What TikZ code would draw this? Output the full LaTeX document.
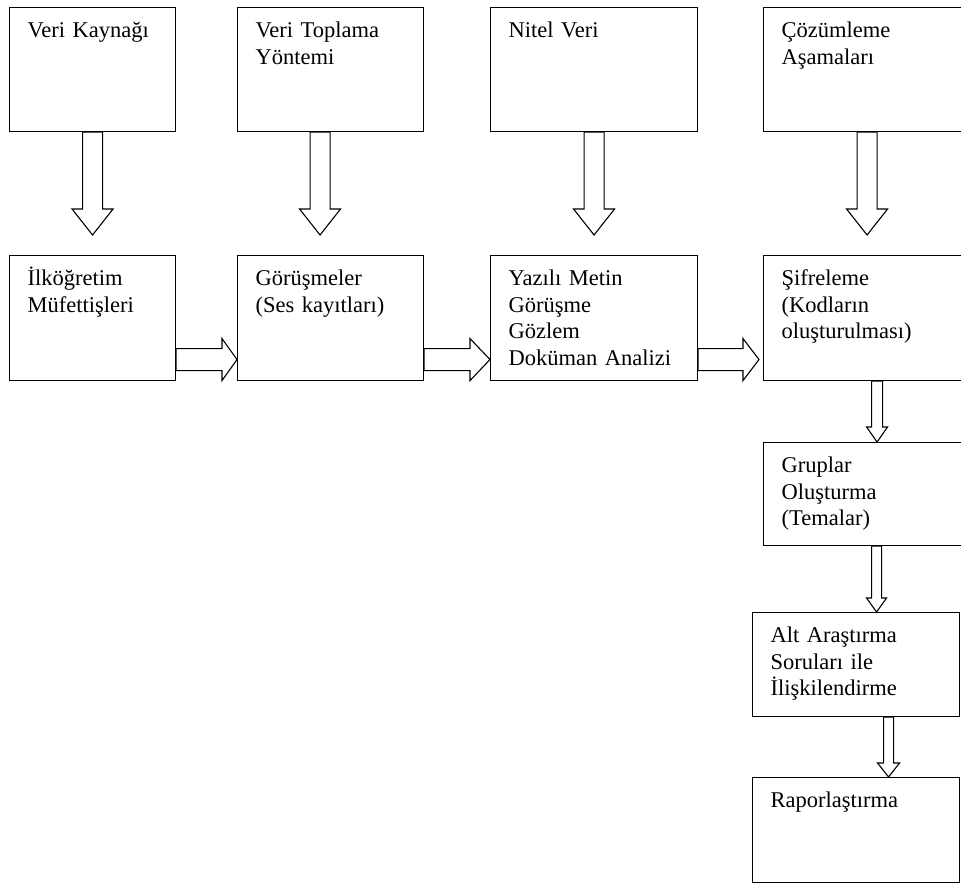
\documentclass[tikz,border=0pt]{standalone}
\usepackage{fontspec}
\setmainfont{Liberation Serif}
\usetikzlibrary{calc}

\tikzstyle{box} = [draw,line width=1.1pt,anchor=north west,inner sep=0pt]
\tikzstyle{boxtext} = [anchor=base west,align=left,text width=200pt,inner sep=0pt,font=\fontsize{22.5}{26.7}\selectfont]
\tikzset{
  down block/.style n args={3}{draw,line width=1.1pt,fill=white,
    to path={let \p1=(\tikztostart), \p2=(\tikztotarget) in
      (\x1-#1,\y1) -- (\x1-#1,\y2+#3) -- (\x1-#2,\y2+#3) -- (\x1,\y2)
      -- (\x1+#2,\y2+#3) -- (\x1+#1,\y2+#3) -- (\x1+#1,\y1) -- cycle}},
  right block/.style n args={3}{draw,line width=1.1pt,fill=white,
    to path={let \p1=(\tikztostart), \p2=(\tikztotarget) in
      (\x1,\y1+#1) -- (\x2-#3,\y1+#1) -- (\x2-#3,\y1+#2) -- (\x2,\y1)
      -- (\x2-#3,\y1-#2) -- (\x2-#3,\y1-#1) -- (\x1,\y1-#1) -- cycle}}
}

\begin{document}
\begin{tikzpicture}[x=1pt,y=1pt]
    \useasboundingbox (0,0) rectangle (961,-884);
    \clip (0,0) rectangle (961,-884);

    %boxes
    \foreach \name/\x/\y/\w/\h/\label in {
      b1/9/7/166/124/{Veri Kaynağı},
      b2/237/7/186/124/{Veri Toplama\\Yöntemi},
      b3/490/7/207/124/{Nitel Veri},
      b4/763/7/207/124/{Çözümleme\\Aşamaları},
      b5/9/255/166/125/{İlköğretim\\Müfettişleri},
      b6/237/255/186/125/{Görüşmeler\\(Ses kayıtları)},
      b7/490/255/207/125/{Yazılı Metin\\Görüşme\\Gözlem\\Doküman Analizi},
      b8/763/255/207/125/{Şifreleme\\(Kodların\\oluşturulması)},
      b9/763/442/207/103/{Gruplar\\Oluşturma\\(Temalar)},
      b10/752/612/207/104/{Alt Araştırma\\Soruları ile\\İlişkilendirme},
      b11/752/777/207/105/{Raporlaştırma}}
    {
      \node[box, minimum width=\w pt, minimum height=\h pt] (\name) at (\x,-\y) {};
      \node[boxtext] (\name-t) at ([shift={(18.5,-30.5)}]\name.north west) {\label};
    }

    %arrows down
    \foreach \startnode/\endnode/\dx/\gap/\shaft/\head/\len in {
      b1/b5/0/20/10/20.5/26, b2/b6/-10.5/20/10/20.5/26, b3/b7/0/20/10/20.5/26,
      b4/b8/0/20/10/20.5/26, b8/b9/10/0/5.5/10.5/15, b9/b10/9.5/0/5/10/14,
      b10/b11/32.5/0/5/11/14}
    {
      \draw[down block={\shaft}{\head}{\len}] ([xshift=\dx]\startnode.south) to ([yshift=\gap]\endnode.north);
    }

    %arrows right
    \foreach \startnode/\endnode/\gap/\len in {
      b5/b6/0/15, b6/b7/0/20, b7/b8/4/16}
    {
      \draw[right block={11}{21}{\len}] ([yshift=-41.5]\startnode.east) to ([shift={(-\gap,-41.5)}]\endnode.west);
    }

\end{tikzpicture}
\end{document}
